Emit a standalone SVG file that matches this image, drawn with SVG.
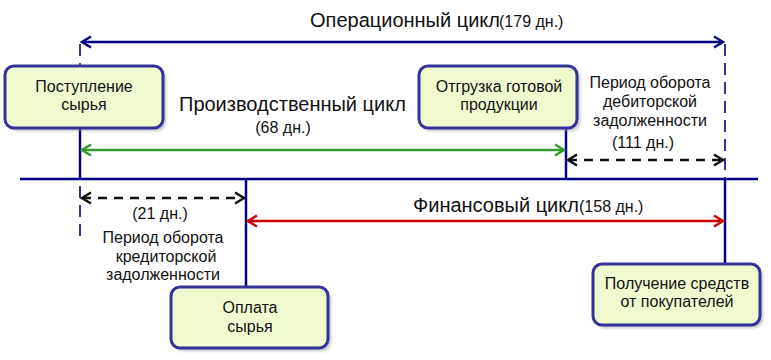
<svg xmlns="http://www.w3.org/2000/svg" width="771" height="360" viewBox="0 0 771 360">
<style>
text{font-family:"Liberation Sans",Arial,sans-serif;fill:#111;}
.big{font-size:20px;}
.sm{font-size:16px;}
.lbl{font-size:16px;text-anchor:middle;}
.box{fill:#f1f9cf;stroke:#33339a;stroke-width:3;}
.main{stroke:#000080;stroke-width:2.5;fill:none;}
.dashv{stroke:#33339a;stroke-width:2;stroke-dasharray:12,7;fill:none;}
</style>
<defs>
<filter id="sh" x="-10%" y="-10%" width="130%" height="140%">
<feGaussianBlur stdDeviation="1.5"/>
</filter>
<marker id="mB" markerWidth="14" markerHeight="14" refX="11" refY="7" orient="auto-start-reverse" markerUnits="userSpaceOnUse">
<polyline points="2,1.5 11,7 2,12.5" fill="none" stroke="#000080" stroke-width="2.5"/>
</marker>
<marker id="mG" markerWidth="14" markerHeight="14" refX="11" refY="7" orient="auto-start-reverse" markerUnits="userSpaceOnUse">
<polyline points="2,1.5 11,7 2,12.5" fill="none" stroke="#339a2e" stroke-width="2.5"/>
</marker>
<marker id="mR" markerWidth="14" markerHeight="14" refX="11" refY="7" orient="auto-start-reverse" markerUnits="userSpaceOnUse">
<polyline points="2,1.5 11,7 2,12.5" fill="none" stroke="#cc0000" stroke-width="2.5"/>
</marker>
<marker id="mK" markerWidth="14" markerHeight="14" refX="11" refY="7" orient="auto-start-reverse" markerUnits="userSpaceOnUse">
<polyline points="2,1.5 11,7 2,12.5" fill="none" stroke="#111" stroke-width="2.5"/>
</marker>
</defs>

<g id="connectors">
<line class="main" x1="20" y1="179" x2="758" y2="179"/>
<line class="dashv" x1="80" y1="44" x2="80" y2="66"/>
<line class="main" x1="80" y1="128" x2="80" y2="179"/>
<line class="dashv" x1="80" y1="186" x2="80" y2="240"/>
<line class="main" x1="566" y1="128" x2="566" y2="179"/>
<line class="dashv" x1="725" y1="44" x2="725" y2="179"/>
<line class="main" x1="725" y1="179" x2="725" y2="263"/>
<line class="main" x1="246" y1="179" x2="246" y2="287"/>
<line x1="82" y1="42" x2="723" y2="42" stroke="#000080" stroke-width="2.5" marker-start="url(#mB)" marker-end="url(#mB)"/>
<line x1="82" y1="150" x2="564" y2="150" stroke="#339a2e" stroke-width="2.5" marker-start="url(#mG)" marker-end="url(#mG)"/>
<line x1="568" y1="160" x2="723" y2="160" stroke="#111" stroke-width="2.5" stroke-dasharray="9,7" marker-start="url(#mK)" marker-end="url(#mK)"/>
<line x1="82" y1="198" x2="244" y2="198" stroke="#111" stroke-width="2.5" stroke-dasharray="9,7" marker-start="url(#mK)" marker-end="url(#mK)"/>
<line x1="248" y1="221" x2="723" y2="221" stroke="#cc0000" stroke-width="2.5" marker-start="url(#mR)" marker-end="url(#mR)"/>
</g>

<g id="labels">
<text class="big" x="310" y="27">Операционный цикл</text>
<text class="sm" x="499" y="27">(179 дн.)</text>
<text class="big" x="179" y="111">Производственный цикл</text>
<text class="sm" x="283" y="133" text-anchor="middle">(68 дн.)</text>
<text class="lbl" x="650" y="88">Период оборота</text>
<text class="lbl" x="650" y="107">дебиторской</text>
<text class="lbl" x="650" y="126">задолженности</text>
<text class="lbl" x="643" y="148">(111 дн.)</text>
<text class="lbl" x="160" y="219">(21 дн.)</text>
<text class="lbl" x="163" y="243">Период оборота</text>
<text class="lbl" x="166" y="262">кредиторской</text>
<text class="lbl" x="163" y="280">задолженности</text>
<text class="big" x="413" y="212">Финансовый цикл</text>
<text class="sm" x="579" y="212">(158 дн.)</text>
</g>

<g id="n1">
<rect x="8" y="69" width="158" height="62" rx="9" fill="#999" opacity="0.6" filter="url(#sh)"/>
<rect class="box" x="5" y="66" width="158" height="62" rx="9"/>
<text class="lbl" x="84" y="92">Поступление</text>
<text class="lbl" x="84" y="110">сырья</text>
</g>
<g id="n2">
<rect x="422" y="69" width="158" height="62" rx="9" fill="#999" opacity="0.6" filter="url(#sh)"/>
<rect class="box" x="419" y="66" width="158" height="62" rx="9"/>
<text class="lbl" x="499" y="92">Отгрузка готовой</text>
<text class="lbl" x="499" y="110">продукции</text>
</g>
<g id="n3">
<rect x="174" y="290" width="157" height="61" rx="9" fill="#999" opacity="0.6" filter="url(#sh)"/>
<rect class="box" x="171" y="287" width="157" height="61" rx="9"/>
<text class="lbl" x="250" y="313">Оплата</text>
<text class="lbl" x="250" y="332">сырья</text>
</g>
<g id="n4">
<rect x="596" y="267" width="167" height="61" rx="9" fill="#999" opacity="0.6" filter="url(#sh)"/>
<rect class="box" x="593" y="264" width="167" height="61" rx="9"/>
<text class="lbl" x="677" y="289">Получение средств</text>
<text class="lbl" x="677" y="307">от покупателей</text>
</g>
</svg>
